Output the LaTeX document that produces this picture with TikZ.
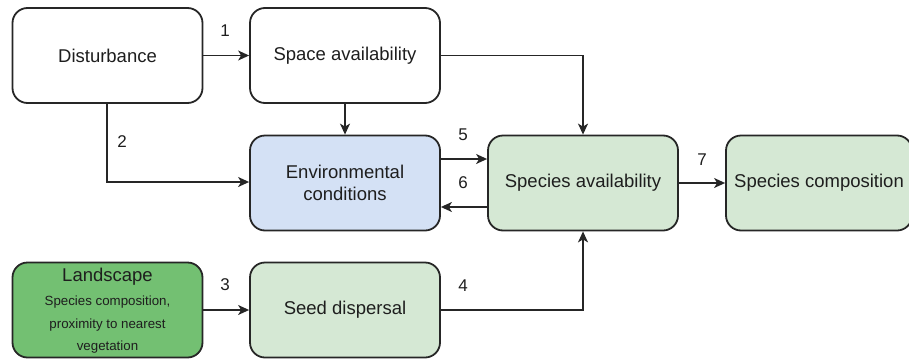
\documentclass[tikz,border=0pt]{standalone}
\usepackage{fontspec}
\setmainfont{Liberation Sans}
\usetikzlibrary{arrows.meta}
\definecolor{envblue}{HTML}{D4E1F5}
\definecolor{lgreen}{HTML}{D5E8D4}
\definecolor{dgreen}{HTML}{73C072}
\definecolor{txt}{HTML}{1E1E1E}
\begin{document}
\begin{tikzpicture}[x=1pt,y=-1pt,
  box/.style={draw=black!85, line width=1.8pt, rounded corners=15pt, minimum width=190pt, minimum height=95pt, inner sep=0pt, align=center, font=\fontsize{18.5}{22}\selectfont, text=txt, fill=white},
  conn/.style={draw=black!85, line width=1.4pt, -{Stealth[length=11pt,width=10pt,inset=3pt]}},
  lbl/.style={font=\fontsize{17}{20}\selectfont, text=txt, inner sep=0pt}]
\useasboundingbox (0,0) rectangle (909,359);
\begin{scope}
\clip (0,0) rectangle (909,359);
\node[box] (dist) at (107.5,55.5) {Disturbance};
\node[box] (space) at (345,55.5) {Space availability};
\node[box, fill=envblue] (env) at (345,183) {Environmental\\conditions};
\node[box, fill=dgreen] (land) at (107.5,310) {};
\node[box, fill=lgreen] (seed) at (345,310) {Seed dispersal};
\node[box, fill=lgreen] (sa) at (583,183) {Species availability};
\node[box, fill=lgreen, minimum width=186pt] (sc) at (819,183) {Species composition};
\end{scope}
\node[lbl, text=txt, font=\fontsize{18.5}{22}\selectfont] (landt) at (107.5,277) {Landscape};
\node[lbl, align=center, font=\fontsize{13.3}{22.5}\selectfont] (landsub) at (107.5,325) {Species composition,\\proximity to nearest\\vegetation};
\coordinate (c2) at (107,182);
\coordinate (c4) at (583,310);
\coordinate (cs) at (583,55.5);
\draw[conn] (dist.east) -- (space.west);
\draw[conn] (dist.south -| c2) -- (c2) -- (env.west |- c2);
\draw[conn] (space.south) -- (env.north);
\draw[conn] (space.east) -- (cs) -- (sa.north);
\draw[conn] ([yshift=24pt]env.east) -- ([yshift=24pt]sa.west);
\draw[conn] ([yshift=-24pt]sa.west) -- ([yshift=-24pt]env.east);
\draw[conn] (sa.east) -- (sc.west);
\draw[conn] (land.east) -- (seed.west);
\draw[conn] (seed.east) -- (c4) -- (sa.south);
\node[lbl] (l1) at (225,31) {1};
\node[lbl] (l2) at (122,142) {2};
\node[lbl] (l3) at (225,285) {3};
\node[lbl] (l4) at (463,286) {4};
\node[lbl] (l5) at (463,135) {5};
\node[lbl] (l6) at (463,183) {6};
\node[lbl] (l7) at (702,160) {7};
\end{tikzpicture}
\end{document}
